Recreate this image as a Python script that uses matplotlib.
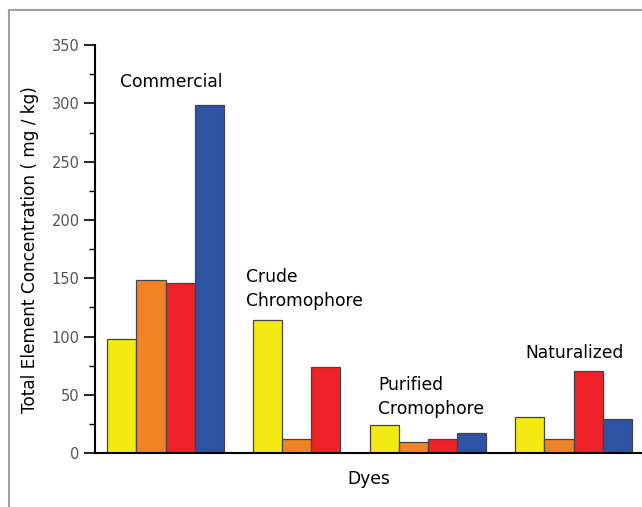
import numpy as np
import matplotlib.pyplot as plt
from matplotlib.patches import Rectangle
from matplotlib.ticker import MultipleLocator

plt.rcParams['font.family'] = ['DejaVu Sans']

# data
groups = ["Commercial", "Crude\nChromophore", "Purified\nCromophore", "Naturalized"]
yellow = [98, 114, 24.5, 31]
orange = [149, 12, 9.5, 12]
red = [146, 74, 12, 70.5]
blue = [299, None, 17.5, 29.5]   # no blue bar for crude chromophore
colors = ["#F2EA10", "#F28223", "#EE2228", "#2E53A3"]

fig = plt.figure(figsize=(6.42, 5.07), dpi=100)
ax = fig.add_axes([0.148, 0.106, 0.852, 0.805])

# frame around the figure (only top and left visible in the original)
fig.patches.append(Rectangle((0.014, -0.1), 1.2, 1.08, transform=fig.transFigure,
                             fill=False, edgecolor="#a0a0a0", lw=1.5))

series = [yellow, orange, red, blue]
pos = 0
label_pos = [(0.45, 318), (4.75, 141), (9.3, 48.5), (14.35, 86)]
for g in range(len(groups)):
    for s, col in zip(series, colors):
        v = s[g]
        if v is None:
            continue
        ax.bar(pos + 0.5, v, width=1.0, color=col, edgecolor="#444444", linewidth=0.9)
        pos += 1
    pos += 1
    lx, ly = label_pos[g]
    ax.text(lx, ly, groups[g], fontsize=12.3, ha="left", va="center", linespacing=1.45)

ax.set_xlim(-0.42, 18.35)
ax.set_ylim(0, 350)
ax.set_xticks([])
ax.yaxis.set_major_locator(MultipleLocator(50))
ax.yaxis.set_minor_locator(MultipleLocator(25))
ax.tick_params(axis="y", which="major", length=8, width=1.2, direction="out",
               labelsize=10.5, labelcolor="#555555", pad=3)
ax.tick_params(axis="y", which="minor", length=4, width=1.0, direction="out")
for side in ["top", "right"]:
    ax.spines[side].set_visible(False)
ax.spines["left"].set_linewidth(1.5)
ax.spines["bottom"].set_linewidth(1.5)

ax.set_ylabel("Total Element Concentration ( mg / kg)", fontsize=12.2, labelpad=9)
ax.set_xlabel("Dyes", fontsize=12.3, labelpad=12)

fig.savefig("out.png", dpi=100)
